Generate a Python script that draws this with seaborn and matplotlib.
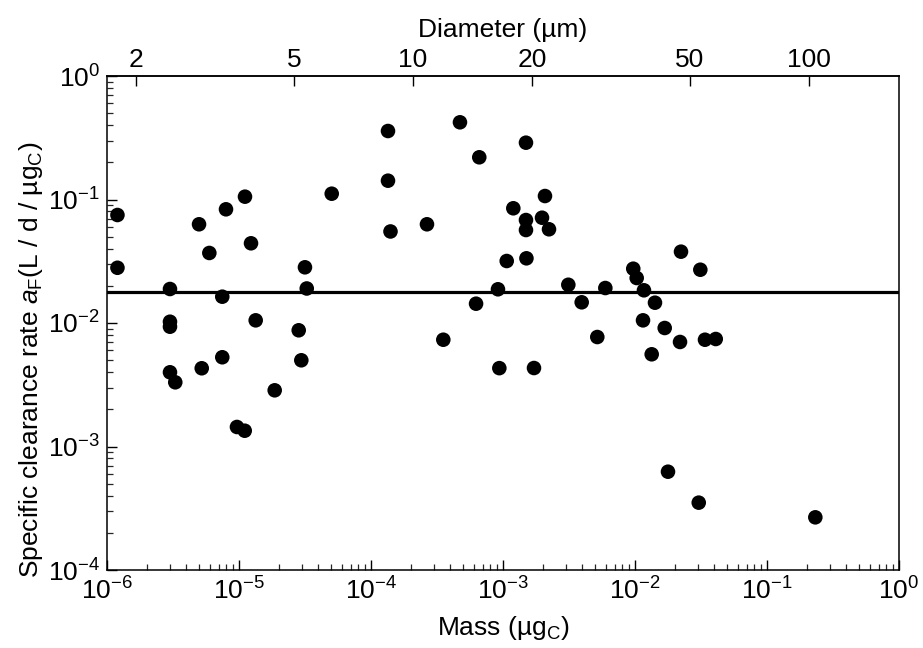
import numpy as np
import pandas as pd
import matplotlib
matplotlib.use("Agg")
import matplotlib.pyplot as plt
import matplotlib.ticker as mticker
import seaborn as sns

# Data
mass_ugC = [1.2e-6, 1.2e-6, 3.0e-6, 3.0e-6, 3.0e-6, 3.0e-6, 3.29e-6, 4.98e-6, 5.96e-6, 7.47e-6,
            7.97e-6, 7.47e-6, 5.22e-6, 1.11e-5, 1.233e-5, 1.338e-5, 9.65e-6, 1.105e-5, 1.864e-5, 2.834e-5,
            2.965e-5, 3.16e-5, 3.26e-5, 5.04e-5, 1.345e-4, 1.345e-4, 1.405e-4, 2.655e-4, 3.53e-4, 4.72e-4,
            6.61e-4, 6.25e-4, 9.16e-4, 9.38e-4, 1.067e-3, 1.197e-3, 1.493e-3, 1.493e-3, 1.493e-3, 1.505e-3,
            1.717e-3, 2.08e-3, 1.975e-3, 2.231e-3, 3.125e-3, 3.946e-3, 5.18e-3, 5.96e-3, 9.70e-3, 1.030e-2,
            1.169e-2, 1.417e-2, 1.15e-2, 1.679e-2, 1.338e-2, 2.193e-2, 2.231e-2, 3.125e-2, 3.39e-2, 4.09e-2,
            1.778e-2, 3.04e-2, 0.2323]
clearance_rate = [0.0749, 0.0280, 0.01885, 0.01024, 0.00933, 0.00399, 0.00331, 0.0630, 0.0369, 0.01633,
                  0.0833, 0.00528, 0.00430, 0.1054, 0.0442, 0.01051, 0.001439, 0.001342, 0.002851, 0.00873,
                  0.00499, 0.02825, 0.01903, 0.1114, 0.3586, 0.1420, 0.0551, 0.0630, 0.00732, 0.4218,
                  0.2197, 0.01433, 0.01875, 0.00431, 0.03177, 0.0849, 0.2884, 0.0682, 0.0566, 0.0334,
                  0.00432, 0.1067, 0.0712, 0.0574, 0.0204, 0.01471, 0.0077, 0.0192, 0.02752, 0.02314,
                  0.0184, 0.0146, 0.01051, 0.00911, 0.00558, 0.00702, 0.0378, 0.0270, 0.00732, 0.00742,
                  0.000625, 0.000351, 0.000267]
mean_rate = 0.0179
diameter_ticks = [2, 5, 10, 20, 50, 100]
mass_per_um3 = 2.08e-7  # µgC per µm^3 (mass = c * d^3)

df = pd.DataFrame({"mass": mass_ugC, "rate": clearance_rate})

sns.set_theme(style="ticks")
plt.rcParams["font.family"] = ["Liberation Sans", "DejaVu Sans"]
plt.rcParams["mathtext.fontset"] = "custom"
plt.rcParams["mathtext.rm"] = "Liberation Sans"
plt.rcParams["mathtext.it"] = "Liberation Sans:italic"
plt.rcParams["mathtext.bf"] = "Liberation Sans:bold"
plt.rcParams["axes.unicode_minus"] = True

fig = plt.figure(figsize=(9.23, 6.48), dpi=100)
ax = fig.add_axes([107 / 923, 1 - 570 / 648, (899 - 107) / 923, (570 - 76) / 648])

sns.scatterplot(data=df, x="mass", y="rate", color="black", s=110, linewidth=0,
                edgecolor="none", ax=ax, legend=False, zorder=3)
ax.axhline(mean_rate, color="black", lw=2.3, zorder=2)

ax.set_xscale("log")
ax.set_yscale("log")
ax.set_xlim(1e-6, 1)
ax.set_ylim(1e-4, 1)

fs = 19
ax.xaxis.set_major_locator(mticker.LogLocator(base=10, numticks=10))
ax.xaxis.set_minor_locator(mticker.LogLocator(base=10, subs=np.arange(2, 10), numticks=20))
ax.yaxis.set_major_locator(mticker.LogLocator(base=10, numticks=10))
ax.yaxis.set_minor_locator(mticker.LogLocator(base=10, subs=np.arange(2, 10), numticks=20))
ax.xaxis.set_minor_formatter(mticker.NullFormatter())
ax.yaxis.set_minor_formatter(mticker.NullFormatter())

ax.tick_params(axis="both", which="major", direction="in", length=7, width=1.0,
               labelsize=fs, colors="black", top=False, right=False, pad=5)
ax.tick_params(axis="both", which="minor", direction="in", length=4, width=0.9,
               top=False, right=False)
for sp in ax.spines.values():
    sp.set_visible(True)
    sp.set_color("black")
    sp.set_linewidth(1.1)

ax.set_xlabel("Mass (µg$_\\mathrm{C}$)", fontsize=fs, color="black", labelpad=7)
ax.set_ylabel("Specific clearance rate $\\mathit{a}_\\mathrm{F}$(L / d / µg$_\\mathrm{C}$)",
              fontsize=fs, color="black")
ax.yaxis.set_label_coords(-0.078, 0.425)


def m2d(m):
    m = np.asarray(m, dtype=float)
    return np.cbrt(np.clip(m, 1e-30, None) / mass_per_um3)


def d2m(d):
    d = np.asarray(d, dtype=float)
    return mass_per_um3 * d ** 3


sec = ax.secondary_xaxis("top", functions=(m2d, d2m))
sec.xaxis.set_major_locator(mticker.FixedLocator(diameter_ticks))
sec.xaxis.set_major_formatter(mticker.FixedFormatter([str(t) for t in diameter_ticks]))
sec.xaxis.set_minor_locator(mticker.NullLocator())
sec.tick_params(axis="x", which="major", direction="in", length=7, width=1.0,
                labelsize=fs, colors="black", pad=3)
sec.set_xlabel("Diameter (µm)", fontsize=fs, color="black", labelpad=8)

fig.savefig("out.png", dpi=100, facecolor="white")
